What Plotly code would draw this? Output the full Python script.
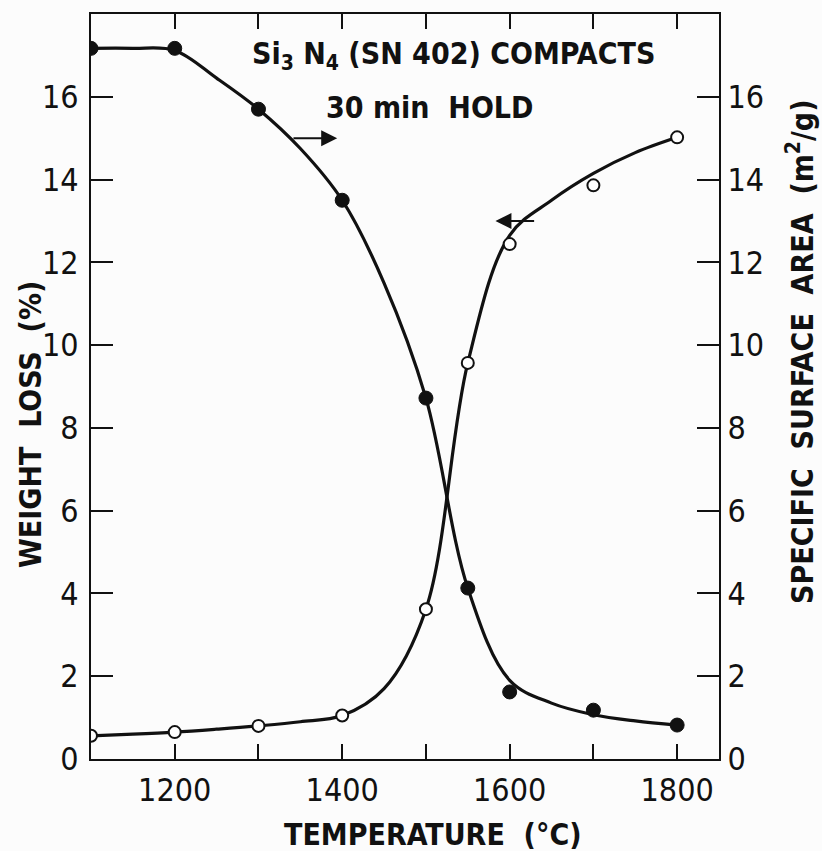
import plotly.graph_objects as go

# Temperature (deg C) of each hold
temperature = [1100, 1200, 1300, 1400, 1500, 1550, 1600, 1700, 1800]
# Specific surface area (m^2/g) - filled symbols, right axis
surface_area = [17.17, 17.17, 15.7, 13.5, 8.72, 4.13, 1.62, 1.18, 0.82]
# Weight loss (%) - open symbols, left axis
weight_loss = [0.56, 0.65, 0.80, 1.05, 3.62, 9.57, 12.44, 13.86, 15.02]

# Hand-fitted trend curves, read every 50 deg C
curve_t = [1100, 1150, 1200, 1250, 1300, 1350, 1400, 1450, 1500, 1550,
           1600, 1650, 1700, 1750, 1800]
surface_curve = [17.17, 17.17, 17.12, 16.45, 15.7, 14.75, 13.5, 11.5, 8.72, 4.13,
                 1.9, 1.35, 1.07, 0.92, 0.82]
loss_curve = [0.56, 0.60, 0.65, 0.72, 0.80, 0.90, 1.05, 1.7, 3.62, 9.57,
              12.65, 13.5, 14.15, 14.65, 15.02]

x_tickvals = [1200, 1300, 1400, 1500, 1600, 1700, 1800]
x_ticktext = ["1200", "", "1400", "", "1600", "", "1800"]
y_tickvals = [0, 2, 4, 6, 8, 10, 12, 14, 16]
y_ticktext = ["0", "2", "4", "6", "8", "10", "12", "14", "16"]

FONT = "DejaVu Sans Condensed, DejaVu Sans, sans-serif"
INK = "#111111"

fig = go.Figure()

# trend curves
fig.add_trace(go.Scatter(
    x=curve_t, y=loss_curve, mode="lines",
    line=dict(color=INK, width=3.2, shape="spline", smoothing=1.0),
    yaxis="y", showlegend=False, hoverinfo="skip",
))
fig.add_trace(go.Scatter(
    x=curve_t, y=surface_curve, mode="lines",
    line=dict(color=INK, width=3.2, shape="spline", smoothing=1.0),
    yaxis="y2", showlegend=False, hoverinfo="skip",
))

# measured points
fig.add_trace(go.Scatter(
    x=temperature, y=weight_loss, mode="markers",
    marker=dict(symbol="circle", size=12, color="white",
                line=dict(color=INK, width=2)),
    yaxis="y", showlegend=False,
))
fig.add_trace(go.Scatter(
    x=temperature, y=surface_area, mode="markers",
    marker=dict(symbol="circle", size=14, color=INK,
                line=dict(color=INK, width=1)),
    yaxis="y2", showlegend=False,
))

axis_common = dict(
    showgrid=False, zeroline=False, showline=True, linecolor=INK,
    linewidth=2, ticks="inside", tickcolor=INK, tickwidth=2,
    tickfont=dict(family=FONT, size=32, color=INK),
)

fig.update_layout(
    width=822, height=851,
    margin=dict(l=91, r=103, t=14, b=92),
    paper_bgcolor="#fcfcfc", plot_bgcolor="#fcfcfc",
    font=dict(family=FONT, color=INK),
    xaxis=dict(range=[1100, 1850], tickmode="array", tickvals=x_tickvals,
               ticktext=x_ticktext, ticklen=15, mirror="ticks",
               ticklabelstandoff=2, **axis_common),
    yaxis=dict(range=[0, 18], tickmode="array", tickvals=y_tickvals,
               ticktext=y_ticktext, ticklen=22, ticklabelstandoff=4,
               **axis_common),
    yaxis2=dict(range=[0, 18], tickmode="array", tickvals=y_tickvals,
                ticktext=y_ticktext, ticklen=22, overlaying="y", side="right",
                ticklabelstandoff=0, **axis_common),
)

title_font = dict(family=FONT, size=30, color=INK, weight="bold")
axis_title_font = dict(family=FONT, size=30, color=INK, weight="bold")

annotations = [
    dict(text="Si<sub>3</sub> N<sub>4</sub> (SN 402) COMPACTS",
         xref="paper", yref="paper", x=(453 - 91) / 628, y=(759 - 55) / 745,
         showarrow=False, font=title_font, xanchor="center", yanchor="middle"),
    dict(text="30 min  HOLD",
         xref="paper", yref="paper", x=(429 - 91) / 628, y=(759 - 108) / 745,
         showarrow=False, font=title_font, xanchor="center", yanchor="middle"),
    dict(text="TEMPERATURE  (°C)",
         xref="paper", yref="paper", x=(433 - 91) / 628, y=-(834 - 759) / 745,
         showarrow=False, font=axis_title_font,
         xanchor="center", yanchor="middle"),
    dict(text="WEIGHT  LOSS  (%)",
         xref="paper", yref="paper", x=-(91 - 30) / 628, y=(759 - 425) / 745,
         showarrow=False, textangle=-90, font=axis_title_font,
         xanchor="center", yanchor="middle"),
    dict(text="SPECIFIC  SURFACE  AREA  (m<sup>2</sup>/g)",
         xref="paper", yref="paper", x=1 + (801 - 719) / 628, y=(759 - 352) / 745,
         showarrow=False, textangle=-90, font=axis_title_font,
         xanchor="center", yanchor="middle"),
    # arrow pointing to the right-hand axis (surface area curve)
    dict(x=1394, y=15.0, ax=1340, ay=15.0, xref="x", yref="y", axref="x", ayref="y",
         showarrow=True, arrowhead=2, arrowsize=1.6, arrowwidth=2, arrowcolor=INK, text=""),
    # arrow pointing to the left-hand axis (weight loss curve)
    dict(x=1583, y=13.0, ax=1631, ay=13.0, xref="x", yref="y", axref="x", ayref="y",
         showarrow=True, arrowhead=2, arrowsize=1.6, arrowwidth=2, arrowcolor=INK, text=""),
]
fig.update_layout(annotations=annotations)

fig.write_html("out.html")
